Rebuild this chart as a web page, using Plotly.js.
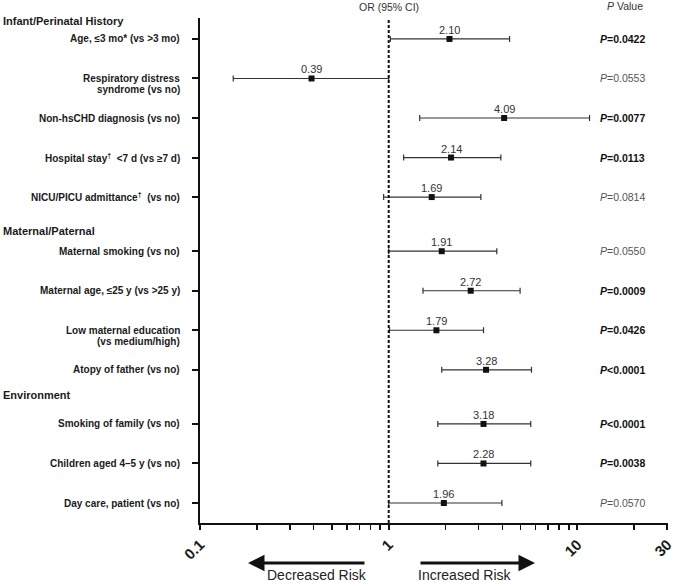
<!DOCTYPE html>
<html>
<head>
<meta charset="utf-8">
<script src="https://cdn.plot.ly/plotly-3.0.1.min.js"></script>
<style>
  html, body { margin: 0; padding: 0; background: #fff; }
  #chart { width: 673px; height: 582px; }
</style>
</head>
<body>
<div id="chart"></div>
<script>
// ---------------- data ----------------
const groupNames = ['Infant/Perinatal History', 'Maternal/Paternal', 'Environment'];
const rowGroup = [0, 0, 0, 0, 0, 1, 1, 1, 1, 2, 2, 2];
const rowLabels = [
  ['Age, \u22643 mo* (vs >3 mo)'],
  ['Respiratory distress', 'syndrome (vs no)'],
  ['Non-hsCHD diagnosis (vs no)'],
  ['Hospital stay<sup>\u2020</sup>  <7 d (vs \u22657 d)'],
  ['NICU/PICU admittance<sup>\u2020</sup>  (vs no)'],
  ['Maternal smoking (vs no)'],
  ['Maternal age, \u226425 y (vs >25 y)'],
  ['Low maternal education', '(vs medium/high)'],
  ['Atopy of father (vs no)'],
  ['Smoking of family (vs no)'],
  ['Children aged 4\u20135 y (vs no)'],
  ['Day care, patient (vs no)']
];
// point positions as drawn in the figure
const orPoint = [2.10, 0.39, 4.09, 2.14, 1.69, 1.91, 2.72, 1.79, 3.28, 3.18, 3.18, 1.96];
const ciLow   = [1.02, 0.15, 1.46, 1.20, 0.94, 1.00, 1.52, 1.01, 1.91, 1.82, 1.82, 1.00];
const ciHigh  = [4.37, 1.00, 11.6, 3.93, 3.08, 3.74, 4.97, 3.18, 5.71, 5.66, 5.66, 3.98];
const orText  = ['2.10', '0.39', '4.09', '2.14', '1.69', '1.91', '2.72', '1.79', '3.28', '3.18', '2.28', '1.96'];
const pText   = ['=0.0422', '=0.0553', '=0.0077', '=0.0113', '=0.0814', '=0.0550', '=0.0009', '=0.0426', '<0.0001', '<0.0001', '=0.0038', '=0.0570'];
const pSig    = [true, false, true, true, false, false, true, true, true, true, true, false];
const xTickVals = [0.1, 1, 10, 30];
const xTickText = ['0.1', '1', '10', '30'];
const xMinorVals = [0.2, 0.3, 0.4, 0.5, 0.6, 0.7, 0.8, 0.9, 2, 3, 4, 5, 6, 7, 8, 9, 20];

// ---------------- layout helpers ----------------
const FONT = 'Liberation Sans, Arial, sans-serif';
const L = 200, R = 668, T = 18, B = 523;
const X_MAX = Math.log10(30) + 0.003;
const pX = px => (px - L) / (R - L);
const pY = py => (B - py) / (B - T);
const GAP = 0.37;
const yPos = rowGroup.map((g, i) => i + g * GAP);

const annotations = [];

// group headers
const headerPx = [20.5, 231, 395];
groupNames.forEach((g, k) => {
  annotations.push({
    xref: 'paper', yref: 'paper', x: pX(1), y: pY(headerPx[k]),
    xanchor: 'left', yanchor: 'middle', showarrow: false,
    text: '<b>' + g + '</b>', font: {family: FONT, size: 11, color: '#1a1a1a'}
  });
});

// row labels
rowLabels.forEach((lines, i) => {
  lines.forEach((ln, j) => {
    annotations.push({
      xref: 'paper', yref: 'y', x: 0, y: yPos[i], xshift: -18, yshift: -11.5 * j,
      xanchor: 'right', yanchor: 'middle', showarrow: false,
      text: '<b>' + ln + '</b>', font: {family: FONT, size: 10, color: '#1a1a1a'}
    });
  });
});

// value labels above the points
orText.forEach((t, i) => {
  annotations.push({
    xref: 'x', yref: 'y', x: Math.log10(orPoint[i]), y: yPos[i], yshift: 9,
    xanchor: 'center', yanchor: 'middle', showarrow: false, text: t,
    font: {family: FONT, size: 11, color: '#333'}
  });
});

// p values
pText.forEach((t, i) => {
  const txt = pSig[i] ? '<b><i>P</i>' + t + '</b>' : '<i>P</i>' + t;
  annotations.push({
    xref: 'paper', yref: 'y', x: pX(647), y: yPos[i],
    xanchor: 'right', yanchor: 'middle', showarrow: false, text: txt,
    font: {family: FONT, size: 10.5, color: pSig[i] ? '#111' : '#555'}
  });
});

// column headers
annotations.push({
  xref: 'x', yref: 'paper', x: 0, y: pY(7), xanchor: 'center', yanchor: 'middle',
  showarrow: false, text: 'OR (95% CI)', font: {family: FONT, size: 10.5, color: '#333'}
});
annotations.push({
  xref: 'paper', yref: 'paper', x: pX(645), y: pY(6), xanchor: 'right', yanchor: 'middle',
  showarrow: false, text: '<i>P</i> Value', font: {family: FONT, size: 10.5, color: '#333'}
});

// risk arrows
annotations.push({
  xref: 'paper', yref: 'paper', x: pX(248), y: pY(563), axref: 'pixel', ayref: 'pixel',
  ax: 118, ay: 0, showarrow: true, arrowhead: 2, arrowsize: 1.1, arrowwidth: 3, arrowcolor: '#111', text: ''
});
annotations.push({
  xref: 'paper', yref: 'paper', x: pX(535), y: pY(563), axref: 'pixel', ayref: 'pixel',
  ax: -116, ay: 0, showarrow: true, arrowhead: 2, arrowsize: 1.1, arrowwidth: 3, arrowcolor: '#111', text: ''
});
annotations.push({
  xref: 'paper', yref: 'paper', x: pX(317), y: pY(575), xanchor: 'center', yanchor: 'middle',
  showarrow: false, text: 'Decreased Risk', font: {family: FONT, size: 14, color: '#222'}
});
annotations.push({
  xref: 'paper', yref: 'paper', x: pX(465), y: pY(575), xanchor: 'center', yanchor: 'middle',
  showarrow: false, text: 'Increased Risk', font: {family: FONT, size: 14, color: '#222'}
});

const trace = {
  type: 'scatter', mode: 'markers',
  x: orPoint, y: yPos,
  marker: {symbol: 'square', size: 6, color: '#111'},
  error_x: {
    type: 'data', symmetric: false,
    array: orPoint.map((v, i) => ciHigh[i] - v),
    arrayminus: orPoint.map((v, i) => v - ciLow[i]),
    color: '#333', thickness: 1.2, width: 3
  },
  cliponaxis: false, hoverinfo: 'skip', showlegend: false
};

const layout = {
  width: 673, height: 582,
  margin: {l: L, r: 673 - R, t: T, b: 582 - B},
  paper_bgcolor: '#fff', plot_bgcolor: '#fff',
  showlegend: false,
  xaxis: {
    type: 'log', range: [-1, X_MAX],
    tickmode: 'array', tickvals: xTickVals, ticktext: xTickText,
    tickangle: -45, tickfont: {family: FONT, size: 15, color: '#1a1a1a', weight: 'bold'},
    ticklabeloverflow: 'allow',
    ticks: 'outside', ticklen: 5, tickwidth: 2, tickcolor: '#111',
    minor: {tickmode: 'array', tickvals: xMinorVals, ticks: 'outside', ticklen: 5, tickwidth: 1.5, tickcolor: '#111', showgrid: false},
    showline: true, linewidth: 2, linecolor: '#111', showgrid: false, zeroline: false,
    fixedrange: true
  },
  yaxis: {
    range: [yPos[yPos.length - 1] + 0.506, -0.53],
    tickmode: 'array', tickvals: yPos, showticklabels: false,
    ticks: 'outside', ticklen: 6, tickwidth: 2, tickcolor: '#111',
    showline: true, linewidth: 2, linecolor: '#111', showgrid: false, zeroline: false,
    fixedrange: true
  },
  shapes: [{
    type: 'line', xref: 'x', yref: 'paper', x0: 1, x1: 1, y0: 0, y1: 1,
    line: {color: '#111', width: 2, dash: '3px,2px'}
  }],
  annotations: annotations
};

Plotly.newPlot('chart', [trace], layout, {displayModeBar: false, staticPlot: true});
</script>
</body>
</html>
